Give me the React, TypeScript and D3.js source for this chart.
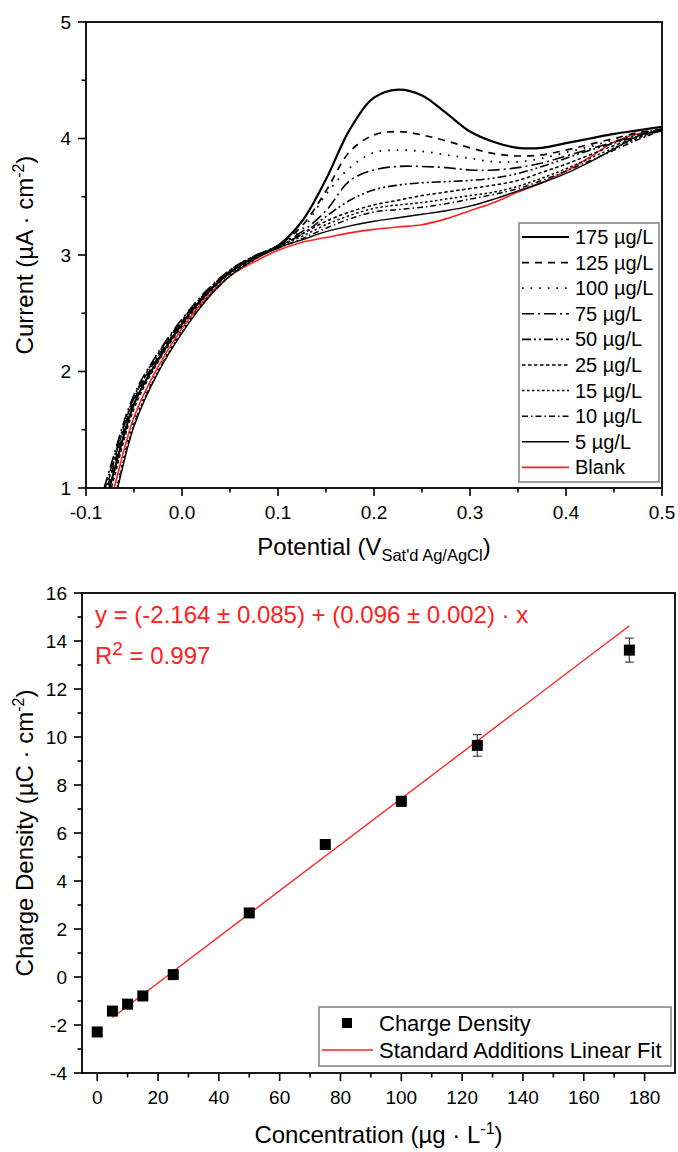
import React from 'react';
import * as d3 from 'd3';

// ---------- Top chart data (current vs potential) ----------
const potentials = [-0.1, -0.075, -0.05, -0.025, 0, 0.025, 0.05, 0.075, 0.1, 0.125, 0.15, 0.175, 0.2, 0.225, 0.25, 0.275, 0.3, 0.325, 0.35, 0.375, 0.4, 0.425, 0.45, 0.475, 0.5];

const cur175 = [0.33, 1.02, 1.72, 2.10, 2.41, 2.66, 2.85, 2.98, 3.08, 3.29, 3.65, 4.08, 4.35, 4.42, 4.37, 4.22, 4.06, 3.97, 3.92, 3.92, 3.96, 4.00, 4.04, 4.07, 4.10];
const cur125 = [0.38, 1.08, 1.75, 2.12, 2.42, 2.67, 2.86, 2.98, 3.08, 3.25, 3.55, 3.89, 4.03, 4.06, 4.03, 3.98, 3.92, 3.87, 3.85, 3.86, 3.90, 3.95, 4.00, 4.05, 4.08];
const cur100 = [0.12, 0.79, 1.57, 2.01, 2.35, 2.62, 2.82, 2.96, 3.08, 3.22, 3.52, 3.75, 3.88, 3.90, 3.89, 3.86, 3.83, 3.80, 3.80, 3.83, 3.88, 3.93, 3.99, 4.04, 4.08];
const cur75 = [0.45, 1.17, 1.80, 2.16, 2.45, 2.69, 2.87, 2.99, 3.08, 3.20, 3.38, 3.64, 3.73, 3.76, 3.76, 3.75, 3.73, 3.73, 3.75, 3.79, 3.85, 3.91, 3.97, 4.03, 4.08];
const cur50 = [0.42, 1.14, 1.78, 2.15, 2.44, 2.68, 2.87, 2.99, 3.07, 3.18, 3.33, 3.47, 3.56, 3.60, 3.62, 3.63, 3.64, 3.66, 3.70, 3.76, 3.83, 3.90, 3.96, 4.02, 4.08];
const cur25 = [0.27, 0.96, 1.68, 2.08, 2.39, 2.65, 2.84, 2.97, 3.07, 3.18, 3.29, 3.37, 3.43, 3.47, 3.51, 3.54, 3.57, 3.60, 3.64, 3.71, 3.78, 3.86, 3.94, 4.01, 4.08];
const cur15 = [0.10, 0.76, 1.55, 2.00, 2.34, 2.61, 2.82, 2.96, 3.07, 3.16, 3.26, 3.34, 3.40, 3.43, 3.45, 3.48, 3.51, 3.54, 3.59, 3.66, 3.74, 3.83, 3.92, 4.00, 4.07];
const cur10 = [0.40, 1.11, 1.77, 2.13, 2.43, 2.67, 2.86, 2.98, 3.06, 3.14, 3.23, 3.31, 3.37, 3.39, 3.41, 3.44, 3.48, 3.52, 3.57, 3.64, 3.72, 3.81, 3.90, 3.99, 4.07];
const cur5 = [0.08, 0.74, 1.53, 1.99, 2.33, 2.61, 2.82, 2.96, 3.06, 3.13, 3.20, 3.25, 3.29, 3.32, 3.35, 3.38, 3.42, 3.48, 3.55, 3.62, 3.70, 3.80, 3.91, 4.02, 4.07];
const curBlank = [0.20, 0.87, 1.61, 2.04, 2.37, 2.63, 2.82, 2.94, 3.04, 3.11, 3.15, 3.19, 3.22, 3.24, 3.26, 3.31, 3.38, 3.45, 3.54, 3.62, 3.72, 3.84, 3.97, 4.04, 4.06];

const seriesLabels = ['175 µg/L', '125 µg/L', '100 µg/L', '75 µg/L', '50 µg/L', '25 µg/L', '15 µg/L', '10 µg/L', '5 µg/L', 'Blank'];
const seriesValues = [cur175, cur125, cur100, cur75, cur50, cur25, cur15, cur10, cur5, curBlank];
const seriesDash = ['', '7,6', '1.6,7', '12,4,2,4', '9,3,2,3,2,3', '3.5,2.5', '2.5,2.5', '6,3,1.5,3', '', ''];
const seriesColor = ['#000', '#000', '#000', '#000', '#000', '#000', '#000', '#000', '#000', '#ff2020'];
const seriesWidth = [2.2, 1.7, 1.8, 1.6, 1.6, 1.5, 1.5, 1.5, 1.4, 1.6];

const topXTicks = [-0.1, 0, 0.1, 0.2, 0.3, 0.4, 0.5];
const topXMinor = [-0.05, 0.05, 0.15, 0.25, 0.35, 0.45];
const topYTicks = [1, 2, 3, 4, 5];
const topYMinor = [1.5, 2.5, 3.5, 4.5];

// ---------- Bottom chart data (charge density vs concentration) ----------
const concentrations = [0, 5, 10, 15, 25, 50, 75, 100, 125, 175];
const chargeDensity = [-2.29, -1.42, -1.13, -0.79, 0.10, 2.67, 5.52, 7.32, 9.65, 13.62];
const chargeError = [0.08, 0.08, 0.08, 0.08, 0.08, 0.1, 0.12, 0.2, 0.45, 0.5];
const fitIntercept = -2.164;
const fitSlope = 0.096;
const fitRange = [5, 175];

const botXTicks = [0, 20, 40, 60, 80, 100, 120, 140, 160, 180];
const botXMinor = [10, 30, 50, 70, 90, 110, 130, 150, 170];
const botYTicks = [-4, -2, 0, 2, 4, 6, 8, 10, 12, 14, 16];
const botYMinor = [-3, -1, 1, 3, 5, 7, 9, 11, 13, 15];

const FONT = "'Liberation Sans', Arial, Helvetica, sans-serif";

export default function App() {
  // top chart
  const tL = 86, tR = 662, tT = 22, tB = 488;
  const tx = d3.scaleLinear().domain([-0.1, 0.5]).range([tL, tR]);
  const ty = d3.scaleLinear().domain([1, 5]).range([tB, tT]);
  const line = d3.line<number>()
    .x((_, i) => tx(potentials[i]))
    .y((d) => ty(d))
    .curve(d3.curveCatmullRom.alpha(0.5));

  // bottom chart
  const bL = 82, bR = 675, bT = 593, bB = 1073;
  const bx = d3.scaleLinear().domain([-5, 190]).range([bL, bR]);
  const by = d3.scaleLinear().domain([-4, 16]).range([bB, bT]);

  const major = 8, minor = 4.5;
  const axisW = 1.8;

  const legX = 519, legY = 223, legW = 140, legH = 259, legRow0 = 237, legStep = 25.6;

  return (
    <svg width={678} height={1152} style={{ position: 'absolute', left: 0, top: 0, background: '#fff' }} fontFamily={FONT}>
      <rect x={0} y={0} width={678} height={1152} fill="#fff" />
      <defs>
        <clipPath id="topClip">
          <rect x={tL} y={tT} width={tR - tL} height={tB - tT} />
        </clipPath>
      </defs>

      {/* ===== TOP CHART ===== */}
      <g clipPath="url(#topClip)">
        {seriesValues.map((vals, i) => (
          <path key={i} d={line(vals) || ''} fill="none" stroke={seriesColor[i]}
            strokeWidth={seriesWidth[i]} strokeDasharray={seriesDash[i] || undefined} />
        )).reverse()}
      </g>
      <rect x={tL} y={tT} width={tR - tL} height={tB - tT} fill="none" stroke="#000" strokeWidth={axisW} />
      {topYTicks.map((v) => (
        <g key={'ty' + v}>
          <line x1={tL - major} x2={tL} y1={ty(v)} y2={ty(v)} stroke="#000" strokeWidth={1.6} />
          <text x={tL - 15} y={ty(v)} dy="0.35em" textAnchor="end" fontSize={19}>{v}</text>
        </g>
      ))}
      {topYMinor.map((v) => (
        <line key={'tym' + v} x1={tL - minor} x2={tL} y1={ty(v)} y2={ty(v)} stroke="#000" strokeWidth={1.6} />
      ))}
      {topXTicks.map((v) => (
        <g key={'tx' + v}>
          <line x1={tx(v)} x2={tx(v)} y1={tB} y2={tB + major} stroke="#000" strokeWidth={1.6} />
          <text x={tx(v)} y={tB + 31} textAnchor="middle" fontSize={19}>{v.toFixed(1)}</text>
        </g>
      ))}
      {topXMinor.map((v) => (
        <line key={'txm' + v} x1={tx(v)} x2={tx(v)} y1={tB} y2={tB + minor} stroke="#000" strokeWidth={1.6} />
      ))}
      <text x={(tL + tR) / 2} y={555} textAnchor="middle" fontSize={24}>
        Potential (V<tspan dy={6} fontSize={16.5}>Sat'd Ag/AgCl</tspan><tspan dy={-6}>)</tspan>
      </text>
      <text transform={`translate(33,${(tT + tB) / 2}) rotate(-90)`} textAnchor="middle" fontSize={24}>
        Current (µA · cm<tspan dy={-9} fontSize={16}>-2</tspan><tspan dy={9}>)</tspan>
      </text>

      {/* top legend */}
      <rect x={legX} y={legY} width={legW} height={legH} fill="#fff" stroke="#808080" strokeWidth={1.5} />
      {seriesLabels.map((lab, i) => {
        const yy = legRow0 + i * legStep;
        return (
          <g key={'leg' + i}>
            <line x1={legX + 3} x2={legX + 50} y1={yy} y2={yy} stroke={seriesColor[i]}
              strokeWidth={Math.min(seriesWidth[i], 1.8)} strokeDasharray={seriesDash[i] || undefined} />
            <text x={legX + 56} y={yy} dy="0.35em" fontSize={20}>{lab}</text>
          </g>
        );
      })}

      {/* ===== BOTTOM CHART ===== */}
      <rect x={bL} y={bT} width={bR - bL} height={bB - bT} fill="none" stroke="#000" strokeWidth={axisW} />
      {botYTicks.map((v) => (
        <g key={'by' + v}>
          <line x1={bL - major} x2={bL} y1={by(v)} y2={by(v)} stroke="#000" strokeWidth={1.6} />
          <text x={bL - 15} y={by(v)} dy="0.35em" textAnchor="end" fontSize={19}>{v}</text>
        </g>
      ))}
      {botYMinor.map((v) => (
        <line key={'bym' + v} x1={bL - minor} x2={bL} y1={by(v)} y2={by(v)} stroke="#000" strokeWidth={1.6} />
      ))}
      {botXTicks.map((v) => (
        <g key={'bx' + v}>
          <line x1={bx(v)} x2={bx(v)} y1={bB} y2={bB + major} stroke="#000" strokeWidth={1.6} />
          <text x={bx(v)} y={bB + 31} textAnchor="middle" fontSize={19}>{v}</text>
        </g>
      ))}
      {botXMinor.map((v) => (
        <line key={'bxm' + v} x1={bx(v)} x2={bx(v)} y1={bB} y2={bB + minor} stroke="#000" strokeWidth={1.6} />
      ))}

      {/* fit line */}
      <line x1={bx(fitRange[0])} y1={by(fitIntercept + fitSlope * fitRange[0])}
        x2={bx(fitRange[1])} y2={by(fitIntercept + fitSlope * fitRange[1])}
        stroke="#ff2020" strokeWidth={1.3} />

      {/* error bars + points */}
      {concentrations.map((c, i) => {
        const cx = bx(c), cy = by(chargeDensity[i]);
        const y1 = by(chargeDensity[i] + chargeError[i]), y2 = by(chargeDensity[i] - chargeError[i]);
        return (
          <g key={'pt' + i}>
            <line x1={cx} x2={cx} y1={y1} y2={y2} stroke="#444" strokeWidth={1.2} />
            <line x1={cx - 4.5} x2={cx + 4.5} y1={y1} y2={y1} stroke="#444" strokeWidth={1.2} />
            <line x1={cx - 4.5} x2={cx + 4.5} y1={y2} y2={y2} stroke="#444" strokeWidth={1.2} />
            <rect x={cx - 5.5} y={cy - 5.5} width={11} height={11} fill="#000" />
          </g>
        );
      })}

      {/* equation */}
      <text x={95} y={623} fontSize={24} fill="#ff2020">y = (-2.164 ± 0.085) + (0.096 ± 0.002) · x</text>
      <text x={95} y={664} fontSize={24} fill="#ff2020">R<tspan dy={-9} fontSize={19}>2</tspan><tspan dy={9}> = 0.997</tspan></text>

      {/* bottom legend */}
      <rect x={319} y={1007} width={352} height={59} fill="#fff" stroke="#808080" strokeWidth={1.5} />
      <rect x={342} y={1018} width={10} height={10} fill="#000" />
      <text x={379} y={1023} dy="0.35em" fontSize={22}>Charge Density</text>
      <line x1={322} x2={373} y1={1050} y2={1050} stroke="#ff2020" strokeWidth={1.3} />
      <text x={379} y={1050} dy="0.35em" fontSize={22}>Standard Additions Linear Fit</text>

      <text x={(bL + bR) / 2} y={1143} textAnchor="middle" fontSize={24}>
        Concentration (µg · L<tspan dy={-9} fontSize={16}>-1</tspan><tspan dy={9}>)</tspan>
      </text>
      <text transform={`translate(33,${(bT + bB) / 2}) rotate(-90)`} textAnchor="middle" fontSize={24}>
        Charge Density (µC · cm<tspan dy={-9} fontSize={16}>-2</tspan><tspan dy={9}>)</tspan>
      </text>
    </svg>
  );
}
